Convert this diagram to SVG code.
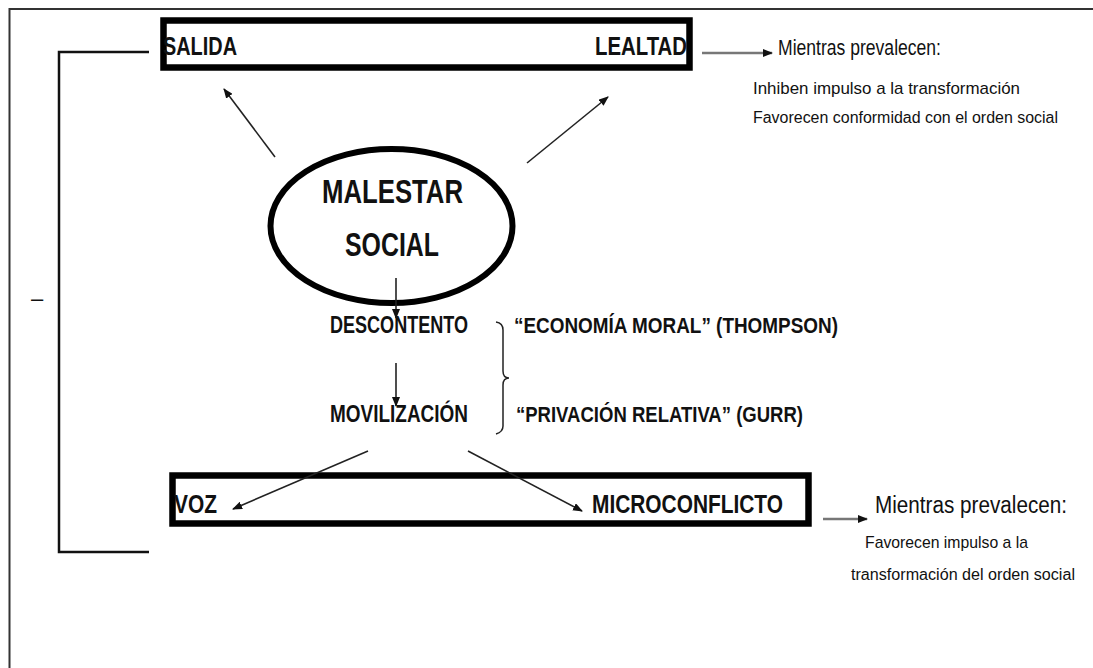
<svg xmlns="http://www.w3.org/2000/svg" width="1093" height="668" viewBox="0 0 1093 668">
<style>
.b{font-family:"Liberation Sans",Arial,sans-serif;font-weight:bold;fill:#111}
.r{font-family:"Liberation Sans",Arial,sans-serif;fill:#111}
.box{fill:none;stroke:#000;stroke-width:6.5}
.ln{fill:none;stroke:#222;stroke-width:1.6}
.gl{fill:none;stroke:#777;stroke-width:2.5}
</style>
<defs>
<marker id="ah" markerUnits="userSpaceOnUse" markerWidth="10" markerHeight="8" refX="9" refY="4" orient="auto">
<path d="M0,0 L10,4 L0,8 Z" fill="#111"/>
</marker>
</defs>
<rect width="1093" height="668" fill="#fff"/>
<g id="frame">
<path d="M9.5,668 V9 H1093" fill="none" stroke="#333" stroke-width="2"/>
<path d="M149,52 H59 V552 H149" fill="none" stroke="#111" stroke-width="2.5"/>
<text class="r" x="31" y="306" font-size="22">–</text>
</g>
<g id="top-box">
<rect class="box" x="163.5" y="20.5" width="526" height="47"/>
<text class="b" x="163" y="55" font-size="26" textLength="74" lengthAdjust="spacingAndGlyphs">SALIDA</text>
<text class="b" x="595" y="55" font-size="26" textLength="92" lengthAdjust="spacingAndGlyphs">LEALTAD</text>
</g>
<g id="top-note">
<text class="r" x="778" y="55" font-size="22" textLength="163" lengthAdjust="spacingAndGlyphs">Mientras prevalecen:</text>
<text class="r" x="753" y="94" font-size="17" textLength="267" lengthAdjust="spacingAndGlyphs">Inhiben impulso a la transformación</text>
<text class="r" x="753" y="123" font-size="16" textLength="305" lengthAdjust="spacingAndGlyphs">Favorecen conformidad con el orden social</text>
</g>
<g id="malestar">
<ellipse cx="391.5" cy="226" rx="121" ry="77" fill="none" stroke="#000" stroke-width="6"/>
<text class="b" x="322" y="203" font-size="34" textLength="141" lengthAdjust="spacingAndGlyphs">MALESTAR</text>
<text class="b" x="345" y="256" font-size="34" textLength="94" lengthAdjust="spacingAndGlyphs">SOCIAL</text>
</g>
<g id="descontento">
<text class="b" x="330" y="333" font-size="24" textLength="138" lengthAdjust="spacingAndGlyphs">DESCONTENTO</text>
</g>
<g id="movilizacion">
<text class="b" x="330" y="422" font-size="24" textLength="138" lengthAdjust="spacingAndGlyphs">MOVILIZACIÓN</text>
</g>
<g id="theories">
<path d="M496,322 Q503,323 503,330 V371 Q503,378 509,378 Q503,378 503,385 V426 Q503,432 496,434" fill="none" stroke="#222" stroke-width="1.5"/>
<text class="b" x="514" y="333" font-size="22" textLength="324" lengthAdjust="spacingAndGlyphs">“ECONOMÍA MORAL” (THOMPSON)</text>
<text class="b" x="516" y="422" font-size="22" textLength="287" lengthAdjust="spacingAndGlyphs">“PRIVACIÓN RELATIVA” (GURR)</text>
</g>
<g id="bottom-box">
<rect class="box" x="172.5" y="475.5" width="636" height="48" stroke-width="7"/>
<text class="b" x="174" y="513" font-size="26" textLength="43" lengthAdjust="spacingAndGlyphs">VOZ</text>
<text class="b" x="592" y="513" font-size="26" textLength="191" lengthAdjust="spacingAndGlyphs">MICROCONFLICTO</text>
</g>
<g id="bottom-note">
<text class="r" x="875" y="513" font-size="23" textLength="192" lengthAdjust="spacingAndGlyphs">Mientras prevalecen:</text>
<text class="r" x="865" y="548" font-size="17" textLength="163" lengthAdjust="spacingAndGlyphs">Favorecen impulso a la</text>
<text class="r" x="851" y="580" font-size="16" textLength="224" lengthAdjust="spacingAndGlyphs">transformación del orden social</text>
</g>
<g id="connectors">
<line class="ln" x1="275" y1="157" x2="224" y2="89" marker-end="url(#ah)"/>
<line class="ln" x1="527" y1="163" x2="608" y2="97" marker-end="url(#ah)"/>
<line class="ln" x1="396" y1="278" x2="396" y2="318" marker-end="url(#ah)"/>
<line class="ln" x1="396" y1="363" x2="396" y2="406" marker-end="url(#ah)"/>
<line class="ln" x1="368" y1="451" x2="233" y2="509" marker-end="url(#ah)"/>
<line class="ln" x1="468" y1="451" x2="582" y2="511" marker-end="url(#ah)"/>
<line class="gl" x1="702" y1="53" x2="772" y2="53" marker-end="url(#ah)"/>
<line class="gl" x1="823" y1="519" x2="867" y2="519" marker-end="url(#ah)"/>
</g>
</svg>
